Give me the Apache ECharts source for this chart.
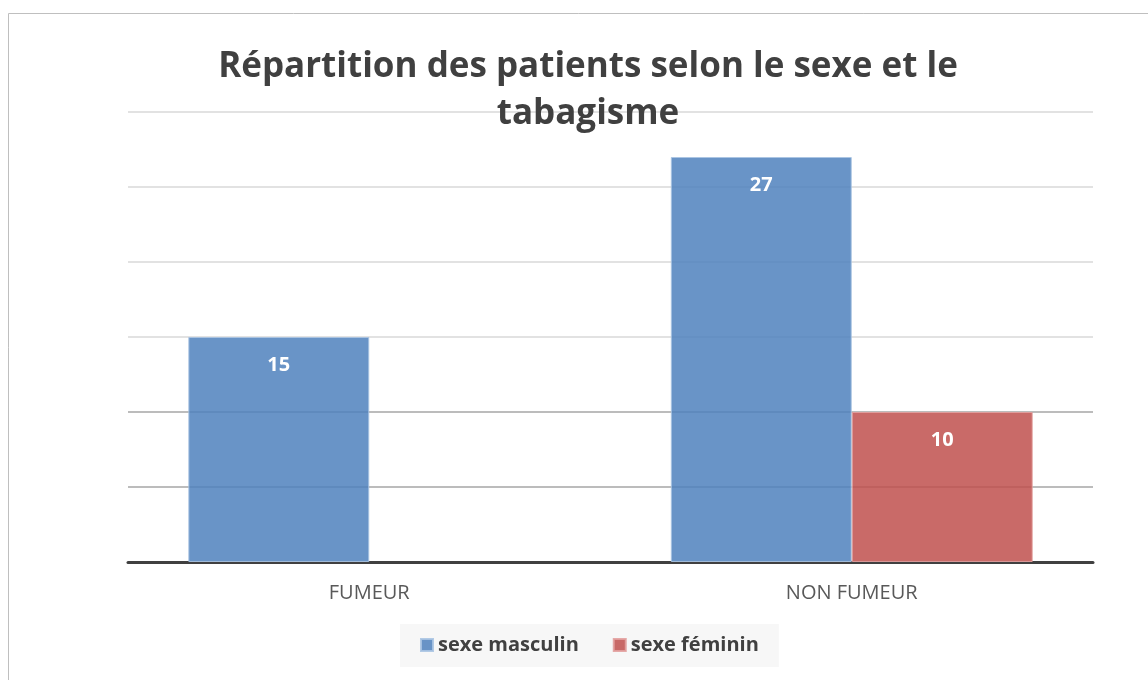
<!DOCTYPE html>
<html>
<head>
<meta charset="utf-8">
<script src="https://cdn.jsdelivr.net/npm/echarts@6/dist/echarts.min.js"></script>
<style>
  html, body { margin: 0; padding: 0; background: #fff; }
  #chart { width: 1148px; height: 680px; }
</style>
</head>
<body>
<div id="chart"></div>
<script>
// données
const categories = ['FUMEUR', 'NON FUMEUR'];
const seriesNames = ['sexe masculin', 'sexe féminin'];
const maleValues = [15, 27];
const femaleValues = [0, 10];

const chart = echarts.init(document.getElementById('chart'));

function barLabel() {
    return {
        show: true,
        position: 'insideTop',
        distance: 18,
        color: '#fff',
        fontFamily: 'Open Sans',
        fontWeight: 'bold',
        fontSize: 20,
        formatter: function (p) { return p.value ? p.value : ''; }
    };
}

const option = {
    backgroundColor: '#fff',
    animation: false,
    title: {
        text: 'Répartition des patients selon le sexe et le\ntabagisme',
        left: 583,
        top: 39,
        textAlign: 'center',
        textStyle: {
            fontFamily: 'Open Sans',
            fontWeight: 'bold',
            fontSize: 35,
            lineHeight: 47,
            color: '#404040'
        }
    },
    graphic: [{
        type: 'rect',
        shape: { x: 8.5, y: 13.5, width: 1200, height: 700 },
        style: { fill: 'none', stroke: '#bfbfbf', lineWidth: 1 },
        silent: true
    }],
    legend: {
        data: seriesNames,
        left: 400,
        top: 624,
        icon: 'rect',
        itemWidth: 12,
        itemHeight: 12,
        itemGap: 34,
        padding: [11, 20, 12, 20],
        backgroundColor: '#f7f7f7',
        textStyle: {
            fontFamily: 'Open Sans',
            fontWeight: 'bold',
            fontSize: 20,
            color: '#404040'
        }
    },
    grid: {
        left: 128,
        right: 55,
        top: 112,
        bottom: 118
    },
    xAxis: {
        type: 'category',
        data: categories,
        axisLine: { lineStyle: { color: '#404040', width: 3 } },
        axisTick: { show: false },
        axisLabel: {
            margin: 21,
            fontFamily: 'Open Sans',
            fontSize: 20,
            color: '#595959'
        }
    },
    yAxis: {
        type: 'value',
        min: 0,
        max: 30,
        interval: 5,
        axisLabel: { show: false },
        axisLine: { show: false },
        axisTick: { show: false },
        splitLine: {
            lineStyle: {
                color: ['#a6a6a6', '#a6a6a6', '#a6a6a6', '#d9d9d9', '#d9d9d9', '#d9d9d9', '#d9d9d9'],
                width: 1.5
            }
        }
    },
    series: [{
        name: seriesNames[0],
        type: 'bar',
        data: maleValues,
        barGap: '0%',
        barCategoryGap: '25%',
        itemStyle: {
            color: 'rgba(79,129,189,0.85)',
            borderColor: 'rgba(170,196,226,0.9)',
            borderWidth: 1
        },
        label: barLabel()
    }, {
        name: seriesNames[1],
        type: 'bar',
        // une valeur nulle ne dessine pas de barre
        data: femaleValues.map(function (v) { return v === 0 ? '-' : v; }),
        itemStyle: {
            color: 'rgba(192,80,77,0.85)',
            borderColor: 'rgba(226,160,158,0.9)',
            borderWidth: 1
        },
        label: barLabel()
    }]
};

chart.setOption(option);
</script>
</body>
</html>
